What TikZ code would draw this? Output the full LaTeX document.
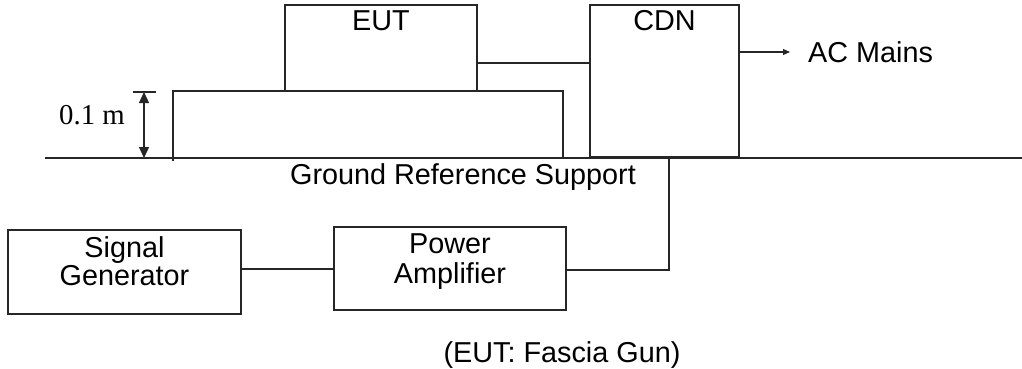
\documentclass[tikz,border=0pt]{standalone}
\usepackage{fontspec}
\setmainfont{Liberation Sans}
\newfontfamily\timesf{Liberation Serif}
\usetikzlibrary{arrows.meta}
\begin{document}
\begin{tikzpicture}[x=1pt,y=-1pt,
  ln/.style={line width=1.2pt, draw=black!85},
  box/.style={ln, rectangle, inner sep=0pt},
  txt/.style={inner sep=0pt, font=\fontsize{28.8}{34}\selectfont, text=black},
  smalltip/.style={-{Triangle[length=7pt,width=6pt]}}]
\useasboundingbox[fill=white] (0,0) rectangle (1022,369);

% boxes
\node[box, minimum width=192pt, minimum height=86pt] (eut) at (381,48) {};
\node[box, minimum width=149pt, minimum height=152pt] (cdn) at (664.5,81) {};
\node[box, minimum width=233pt, minimum height=84pt] (sg) at (124.5,272) {};
\node[box, minimum width=232pt, minimum height=83pt] (pa) at (450,268.5) {};

% ground reference plane and table
\draw[ln] (45,158) -- (1022,158);
\draw[ln] (173,161) -- (173,91) -- (563,91) -- (563,158);

% labels
\node[txt, anchor=base] (eutl) at (381,31) {EUT};
\node[txt, anchor=base] (cdnl) at (664.5,31) {CDN};
\node[txt, anchor=base west] (ac) at (808,62.5) {AC Mains};
\node[txt, anchor=base west, font=\timesf\fontsize{28.8}{34}\selectfont] (dim) at (59,124) {0.1 m};
\node[txt, anchor=base] (grs) at (463,184) {Ground Reference Support};
\node[txt, anchor=base] (sg1) at (124.5,257) {Signal};
\node[txt, anchor=base] (sg2) at (124.5,285) {Generator};
\node[txt, anchor=base] (pa1) at (450,253) {Power};
\node[txt, anchor=base] (pa2) at (450,283) {Amplifier};
\node[txt, anchor=base] (note) at (562,362) {(EUT: Fascia Gun)};

% dimension 0.1 m
\coordinate (dtop) at (144,92);
\coordinate (dbot) at (144,158);
\draw[ln] (133,92) -- (156,92);
\draw[ln, {Triangle[length=11pt,width=10pt]}-{Triangle[length=11pt,width=10pt]}] (dtop) -- (dbot);

% connectors
\draw[ln] (eut.east |- 0,63) -- (cdn.west |- 0,63);
\coordinate (acend) at (790,52);
\draw[ln, smalltip] (cdn.east |- acend) -- (acend);
\draw[ln] (sg.east |- 0,269) -- (pa.west |- 0,269);
\coordinate (riser) at (669,158);
\draw[ln] (riser) -- (669,270) -- (pa.east |- 0,270);
\end{tikzpicture}
\end{document}
